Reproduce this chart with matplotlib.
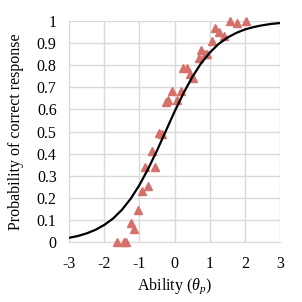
import matplotlib
matplotlib.use('Agg')
import matplotlib.pyplot as plt

plt.rcParams['font.family'] = ['Liberation Serif', 'DejaVu Serif']
plt.rcParams['mathtext.fontset'] = 'custom'
plt.rcParams['mathtext.rm'] = 'Liberation Serif'
plt.rcParams['mathtext.it'] = 'Liberation Serif:italic'
plt.rcParams['axes.unicode_minus'] = False

# observed proportions (triangles)
obs_x = [-1.65, -1.44, -1.37, -1.24, -1.16, -1.04, -0.94, -0.75, -0.83, -0.56,
         -0.64, -0.44, -0.35, -0.25, -0.18, -0.085, 0.06, 0.17, 0.23, 0.34,
         0.44, 0.53, 0.70, 0.75, 0.86, 0.91, 1.07, 1.15, 1.26, 1.41,
         1.58, 1.79, 2.02]
obs_y = [0.0, 0.0, 0.0, 0.089, 0.06, 0.146, 0.233, 0.256, 0.341, 0.341,
         0.412, 0.495, 0.49, 0.635, 0.642, 0.683, 0.642, 0.684, 0.785, 0.785,
         0.762, 0.744, 0.83, 0.87, 0.85, 0.85, 0.91, 0.968, 0.95, 0.93,
         1.0, 0.99, 1.0]

# item characteristic curve
curve_x = [-3, -2.75, -2.5, -2.25, -2, -1.75, -1.5, -1.25, -1, -0.75, -0.5, -0.25,
           0, 0.25, 0.5, 0.75, 1, 1.25, 1.5, 1.75, 2, 2.25, 2.5, 2.75, 3]
curve_y = [0.020, 0.028, 0.040, 0.056, 0.078, 0.107, 0.146, 0.196, 0.258, 0.332,
           0.414, 0.502, 0.590, 0.672, 0.745, 0.807, 0.856, 0.895, 0.924, 0.945,
           0.961, 0.972, 0.980, 0.986, 0.990]

fig = plt.figure(figsize=(3.02, 3.02), dpi=100)
ax = fig.add_axes([0.229, 0.198, 0.698, 0.733])

ax.plot(obs_x, obs_y, linestyle='none', marker='^', markersize=6,
        color='#d6706a', zorder=3, clip_on=False)
ax.plot(curve_x, curve_y, color='black', linewidth=1.6, zorder=4)

ax.set_xlim(-3, 3)
ax.set_ylim(0, 1)
ax.set_xticks(range(-3, 4))
ax.set_yticks([i / 10 for i in range(11)])
ax.set_yticklabels(['0', '0.1', '0.2', '0.3', '0.4', '0.5', '0.6', '0.7', '0.8', '0.9', '1'])
ax.grid(True, color='#d9d9d9', linewidth=1)
ax.set_axisbelow(True)
for s in ['top', 'right']:
    ax.spines[s].set_visible(False)
for s in ['left', 'bottom']:
    ax.spines[s].set_color('#d9d9d9')
ax.tick_params(length=0, labelsize=11.5)
ax.tick_params(axis='x', pad=10)
ax.tick_params(axis='y', pad=9)

ax.set_xlabel(r'Ability ($\theta_p$)', fontsize=11.5, labelpad=3)
ax.set_ylabel('Probability of correct response', fontsize=11.5, labelpad=9)

fig.savefig('out.png', dpi=100)
